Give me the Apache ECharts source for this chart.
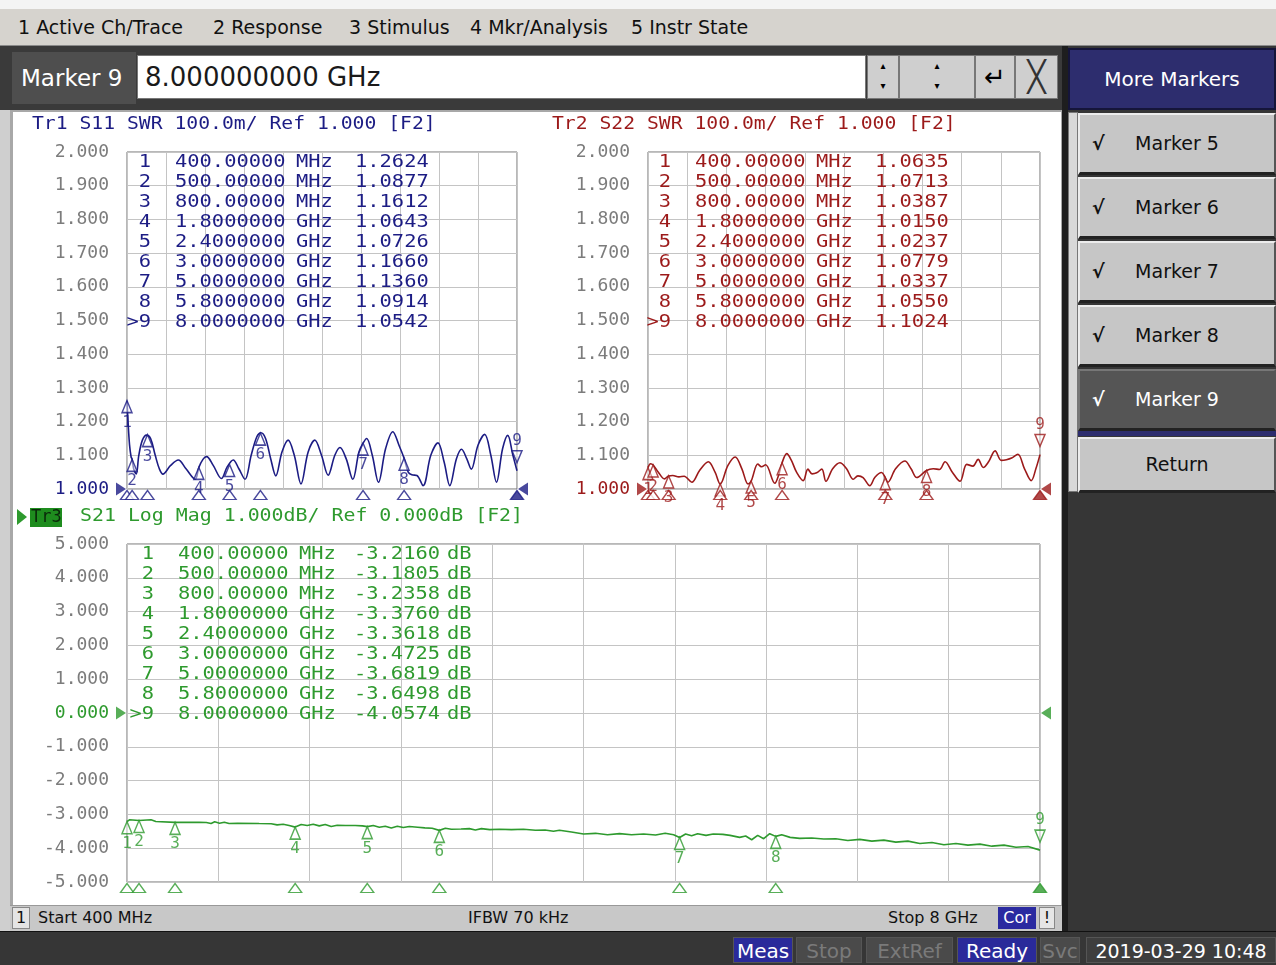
<!DOCTYPE html>
<html>
<head>
<meta charset="utf-8">
<script src="https://cdn.jsdelivr.net/npm/echarts@6/dist/echarts.min.js"></script>
<style>
body { margin: 0; width: 1276px; height: 965px; overflow: hidden; background: #363636; position: relative; font-family: 'DejaVu Sans', sans-serif; }
.a { position: absolute; box-sizing: border-box; }
.menu span { position: absolute; top: 0; line-height: 37px; font-size: 19px; color: #111; white-space: nowrap; }
.btn { position: absolute; left: 1078px; width: 198px; background: #c6c6c6; border-top: 2px solid #ececec; border-left: 2px solid #ececec; border-bottom: 3px solid #222; border-right: 2px solid #555; font-size: 19px; color: #111; text-align: center; box-sizing: border-box; }
.btn i { position: absolute; left: 12px; font-style: normal; font-weight: bold; }
.sb { position: absolute; top: 937px; height: 26px; line-height: 26px; font-size: 20px; text-align: center; box-sizing: border-box; border: 1px solid #555; }
#chart { position: absolute; left: 0; top: 0; width: 1276px; height: 965px; z-index: 5; }
</style>
</head>
<body>
<div class="a" style="left:0;top:0;width:1276px;height:9px;background:#f4f4f4"></div>
<div class="a menu" style="left:0;top:9px;width:1276px;height:37px;background:#d6d3ce;border-bottom:1px solid #8a8a8a">
  <span style="left:18px">1 Active Ch/Trace</span>
  <span style="left:213px">2 Response</span>
  <span style="left:349px">3 Stimulus</span>
  <span style="left:470px">4 Mkr/Analysis</span>
  <span style="left:631px">5 Instr State</span>
</div>
<div class="a" style="left:0;top:46px;width:1062px;height:64px;background:#3a3a3a"></div>
<div class="a" style="left:12px;top:52px;width:124px;height:52px;background:#4e4e4e;color:#fff;font-size:23px;line-height:52px;padding-left:9px;white-space:nowrap">Marker 9</div>
<div class="a" style="left:137px;top:55px;width:729px;height:44px;background:#fff;border:1px solid #777;color:#1a1a1a;font-size:26px;line-height:42px;padding-left:7px">8.000000000 GHz</div>
<div class="a" style="left:867px;top:55px;width:32px;height:44px;background:#cfcfcf;border:1px solid #777;font-size:10px;line-height:20px;text-align:center">&#9652;<br>&#9662;</div>
<div class="a" style="left:899px;top:55px;width:76px;height:44px;background:#cfcfcf;border:1px solid #777;font-size:10px;line-height:20px;text-align:center">&#9652;<br>&#9662;</div>
<div class="a" style="left:975px;top:55px;width:40px;height:44px;background:#cfcfcf;border:1px solid #777;font-size:26px;line-height:42px;text-align:center">&#8629;</div>
<div class="a" style="left:1015px;top:55px;width:43px;height:44px;background:#cfcfcf;border:1px solid #777;font-size:30px;line-height:42px;text-align:center;color:#333">&#9587;</div>

<div class="a" style="left:1062px;top:46px;width:6px;height:886px;background:#1e1e1e"></div>
<div class="a" style="left:1068px;top:48px;width:208px;height:62px;background:#2d2d6e;border:2px solid #15153a;color:#fff;font-size:20px;line-height:58px;text-align:center">More Markers</div>
<div class="a" style="left:1068px;top:112px;width:10px;height:380px;background:#d8d8d8;border:1px solid #777"></div>
<div class="btn" style="top:113px;height:62px;line-height:57px"><i>&#8730;</i>Marker 5</div>
<div class="btn" style="top:177px;height:62px;line-height:57px"><i>&#8730;</i>Marker 6</div>
<div class="btn" style="top:241px;height:62px;line-height:57px"><i>&#8730;</i>Marker 7</div>
<div class="btn" style="top:305px;height:62px;line-height:57px"><i>&#8730;</i>Marker 8</div>
<div class="btn" style="top:369px;height:62px;line-height:57px;background:#555;color:#fff;border-top-color:#777;border-left-color:#777"><i>&#8730;</i>Marker 9</div>
<div class="a" style="left:1078px;top:431px;width:198px;height:5px;background:#2d2d6e"></div>
<div class="btn" style="top:437px;height:56px;line-height:51px">Return</div>

<div class="a" style="left:0;top:110px;width:12px;height:822px;background:#cfcfcf"></div>
<div class="a" style="left:10px;top:110px;width:1052px;height:795px;background:#fff;border-left:3px solid #a8a8a8;border-top:2px solid #a8a8a8;border-right:1px solid #a8a8a8"></div>
<div class="a" style="left:10px;top:905px;width:1052px;height:26px;background:#c8c8c8;border-top:1px solid #999;font-size:16px;line-height:24px;color:#111">
  <div class="a" style="left:2px;top:1px;width:18px;height:22px;background:#e4e4e4;border:1px solid #888;text-align:center;line-height:20px">1</div>
  <span class="a" style="left:28px">Start 400 MHz</span>
  <span class="a" style="left:458px">IFBW 70 kHz</span>
  <span class="a" style="left:878px">Stop 8 GHz</span>
  <div class="a" style="left:988px;top:1px;width:38px;height:22px;background:#2a2aa0;color:#fff;text-align:center;line-height:22px">Cor</div>
  <div class="a" style="left:1029px;top:1px;width:16px;height:22px;background:#e6e6e6;border:1px solid #888;text-align:center;line-height:20px">!</div>
</div>
<div class="a" style="left:0;top:931px;width:1276px;height:34px;background:#363636;border-top:1px solid #111"></div>
<div class="sb" style="left:733px;width:60px;background:#2a2a9a;color:#fff">Meas</div>
<div class="sb" style="left:796px;width:66px;background:#4a4a4a;color:#7a7a7a">Stop</div>
<div class="sb" style="left:866px;width:87px;background:#4a4a4a;color:#7a7a7a">ExtRef</div>
<div class="sb" style="left:957px;width:80px;background:#2a2a9a;color:#fff">Ready</div>
<div class="sb" style="left:1040px;width:40px;background:#4a4a4a;color:#7a7a7a">Svc</div>
<div class="sb" style="left:1086px;width:190px;background:#3e3e3e;color:#fff;font-size:19px">2019-03-29 10:48</div>

<div id="chart"></div>
<script>
// sweep: 400 MHz .. 8 GHz, 10 divisions
const freqStart = 0.4;
const freqStop = 8.0;
const freqDiv = 0.76;

// y scales [min, max, step]
const swrScale = [1.0, 2.0, 0.1];
const magScale = [-5.0, 5.0, 1.0];

const markerFreq = [0.4, 0.5, 0.8, 1.8, 2.4, 3.0, 5.0, 5.8, 8.0];
const markerFreqText = ['400.00000', '500.00000', '800.00000', '1.8000000', '2.4000000', '3.0000000', '5.0000000', '5.8000000', '8.0000000'];
const markerUnit = ['MHz', 'MHz', 'MHz', 'GHz', 'GHz', 'GHz', 'GHz', 'GHz', 'GHz'];
const s11Marker = [1.2624, 1.0877, 1.1612, 1.0643, 1.0726, 1.1660, 1.1360, 1.0914, 1.0542];
const s22Marker = [1.0635, 1.0713, 1.0387, 1.0150, 1.0237, 1.0779, 1.0337, 1.0550, 1.1024];
const s21Marker = [-3.2160, -3.1805, -3.2358, -3.3760, -3.3618, -3.4725, -3.6819, -3.6498, -4.0574];

// traces, [GHz, value]
const s11Trace = [
    [0.40, 1.262], [0.42, 1.20], [0.45, 1.13], [0.48, 1.095], [0.50, 1.088], [0.53, 1.06], [0.58, 1.045],
    [0.63, 1.10], [0.70, 1.145], [0.78, 1.160], [0.86, 1.150], [0.95, 1.10], [1.03, 1.06], [1.10, 1.044],
    [1.25, 1.07], [1.40, 1.086], [1.55, 1.06], [1.73, 1.029], [1.80, 1.064], [1.88, 1.088], [1.95, 1.096],
    [2.08, 1.07], [2.24, 1.031], [2.35, 1.065], [2.47, 1.086], [2.58, 1.06], [2.70, 1.029], [2.82, 1.10],
    [2.93, 1.155], [3.01, 1.167], [3.10, 1.150], [3.20, 1.09], [3.30, 1.039], [3.42, 1.11], [3.54, 1.145],
    [3.66, 1.10], [3.79, 1.015], [3.93, 1.11], [4.06, 1.145], [4.19, 1.10], [4.32, 1.041], [4.45, 1.10],
    [4.55, 1.123], [4.67, 1.09], [4.80, 1.029], [4.92, 1.11], [5.00, 1.136], [5.07, 1.150], [5.18, 1.10],
    [5.30, 1.020], [5.44, 1.12], [5.58, 1.170], [5.70, 1.13], [5.80, 1.091], [5.88, 1.05], [5.95, 1.042],
    [6.05, 1.040], [6.17, 1.010], [6.32, 1.10], [6.46, 1.137], [6.58, 1.08], [6.69, 1.010], [6.82, 1.09],
    [6.92, 1.118], [7.02, 1.09], [7.11, 1.059], [7.24, 1.13], [7.37, 1.162], [7.49, 1.10], [7.60, 1.020],
    [7.72, 1.12], [7.82, 1.159], [7.92, 1.10], [8.00, 1.054]
];
const s22Trace = [
    [0.40, 1.0635], [0.45, 1.075], [0.50, 1.0713], [0.60, 1.05], [0.72, 1.030], [0.80, 1.0387], [0.88, 1.040],
    [1.00, 1.036], [1.10, 1.038], [1.25, 1.020], [1.40, 1.055], [1.57, 1.081], [1.70, 1.05], [1.80, 1.015],
    [1.95, 1.07], [2.09, 1.095], [2.22, 1.06], [2.34, 1.015], [2.40, 1.0237], [2.53, 1.074], [2.60, 1.066],
    [2.68, 1.072], [2.86, 1.017], [2.93, 1.04], [3.00, 1.078], [3.09, 1.105], [3.18, 1.085], [3.28, 1.05],
    [3.41, 1.025], [3.50, 1.059], [3.58, 1.045], [3.67, 1.048], [3.77, 1.059], [3.85, 1.023], [3.98, 1.06],
    [4.12, 1.078], [4.25, 1.06], [4.38, 1.029], [4.47, 1.039], [4.57, 1.034], [4.70, 1.010], [4.80, 1.035],
    [4.93, 1.049], [5.00, 1.0337], [5.05, 1.02], [5.20, 1.06], [5.38, 1.083], [5.50, 1.06], [5.61, 1.034],
    [5.80, 1.055], [5.93, 1.060], [6.05, 1.058], [6.16, 1.081], [6.30, 1.05], [6.45, 1.023], [6.58, 1.073],
    [6.70, 1.068], [6.80, 1.088], [6.90, 1.064], [7.00, 1.080], [7.13, 1.113], [7.25, 1.085], [7.35, 1.087],
    [7.45, 1.092], [7.57, 1.103], [7.70, 1.06], [7.83, 1.025], [7.92, 1.06], [8.00, 1.102]
];
const s21Trace = [
    [0.40, -3.216], [0.42, -3.16], [0.50, -3.18], [0.60, -3.16], [0.64, -3.21], [0.80, -3.236], [1.00, -3.235],
    [1.06, -3.24], [1.10, -3.27], [1.13, -3.22], [1.17, -3.26], [1.21, -3.23], [1.25, -3.27], [1.32, -3.26],
    [1.50, -3.27], [1.60, -3.275], [1.65, -3.31], [1.70, -3.29], [1.75, -3.33], [1.80, -3.376], [1.85, -3.30],
    [1.90, -3.33], [1.95, -3.29], [2.00, -3.34], [2.05, -3.30], [2.10, -3.36], [2.15, -3.32], [2.22, -3.33],
    [2.30, -3.33], [2.36, -3.34], [2.40, -3.362], [2.45, -3.33], [2.50, -3.38], [2.55, -3.35], [2.60, -3.40],
    [2.65, -3.35], [2.70, -3.39], [2.75, -3.36], [2.82, -3.38], [2.88, -3.40], [2.94, -3.41], [3.00, -3.4725],
    [3.05, -3.41], [3.10, -3.44], [3.18, -3.43], [3.25, -3.42], [3.30, -3.46], [3.35, -3.42], [3.42, -3.45],
    [3.50, -3.44], [3.60, -3.45], [3.70, -3.44], [3.80, -3.47], [3.88, -3.46], [3.95, -3.50], [4.00, -3.47],
    [4.10, -3.52], [4.20, -3.58], [4.30, -3.56], [4.40, -3.60], [4.50, -3.57], [4.60, -3.60], [4.70, -3.58],
    [4.80, -3.61], [4.88, -3.56], [4.95, -3.60], [5.00, -3.682], [5.05, -3.58], [5.10, -3.63], [5.15, -3.57],
    [5.22, -3.62], [5.28, -3.58], [5.36, -3.59], [5.42, -3.62], [5.50, -3.68], [5.55, -3.64], [5.60, -3.75],
    [5.65, -3.62], [5.70, -3.72], [5.75, -3.57], [5.80, -3.650], [5.85, -3.60], [5.92, -3.68], [6.00, -3.71],
    [6.10, -3.70], [6.20, -3.73], [6.30, -3.72], [6.40, -3.77], [6.50, -3.74], [6.60, -3.79], [6.70, -3.76],
    [6.80, -3.82], [6.90, -3.79], [7.00, -3.86], [7.10, -3.83], [7.20, -3.90], [7.30, -3.86], [7.40, -3.91],
    [7.50, -3.88], [7.60, -3.94], [7.70, -3.91], [7.80, -3.97], [7.90, -3.95], [8.00, -4.057]
];

const NAVY = '#1c1c84';
const RED = '#9c1a1a';
const GREEN = '#2e9a2e';
const MONO = '"DejaVu Sans Mono", monospace';

const chart = echarts.init(document.getElementById('chart'));

function txt(x, y, s, color, sx, align) {
    return {
        type: 'text', x: x, y: y, scaleX: sx || 1, z: 10,
        style: {
            text: s, fill: color, font: '17px ' + MONO,
            align: align || 'left', verticalAlign: 'middle',
            textAlign: align || 'left', textVerticalAlign: 'middle'
        }
    };
}

function markerTable(x0, y0, vals, color, unit) {
    const out = [];
    vals.forEach(function (v, i) {
        const y = y0 + i * 20;
        out.push(txt(x0, y, i === 8 ? '>9' : String(i + 1), color, 1.2, 'right'));
        out.push(txt(x0 + 24, y, markerFreqText[i], color, 1.2));
        out.push(txt(x0 + 145, y, markerUnit[i], color, 1.2));
        if (unit) {
            out.push(txt(x0 + 200, y, v.toFixed(4), color, 1.2));
            out.push(txt(x0 + 293, y, unit, color, 1.2));
        } else {
            out.push(txt(x0 + 204, y, v.toFixed(4), color, 1.2));
        }
    });
    return out;
}

const graphic = [
    txt(32, 125, 'Tr1 S11 SWR 100.0m/ Ref 1.000 [F2]', NAVY, 1.16),
    txt(552, 125, 'Tr2 S22 SWR 100.0m/ Ref 1.000 [F2]', RED, 1.16),
    { type: 'polygon', z: 10, shape: { points: [[17, 509], [27, 517], [17, 525]] }, style: { fill: GREEN } },
    { type: 'rect', z: 9, shape: { x: 30, y: 508, width: 32, height: 19 }, style: { fill: '#1e8c1e' } },
    txt(31, 518, 'Tr3', '#0a2a0a', 1.0),
    txt(80, 517, 'S21 Log Mag 1.000dB/ Ref 0.000dB [F2]', GREEN, 1.17)
].concat(
    markerTable(151, 163, s11Marker, NAVY),
    markerTable(671, 163, s22Marker, RED),
    markerTable(154, 555, s21Marker, GREEN, 'dB')
);

const grids = [
    { left: 127, top: 152, width: 390, height: 337 },
    { left: 648, top: 152, width: 392, height: 337 },
    { left: 127, top: 544, width: 913, height: 338 }
];
const scales = [swrScale, swrScale, magScale];
const refLevel = [1.0, 1.0, 0.0];
const colors = [NAVY, RED, GREEN];
const traces = [s11Trace, s22Trace, s21Trace];
const markers = [s11Marker, s22Marker, s21Marker];

const series = [];
traces.forEach(function (tr, g) {
    series.push({
        type: 'line', xAxisIndex: g, yAxisIndex: g, data: tr, showSymbol: false,
        smooth: g < 2 ? 0.35 : false, lineStyle: { color: colors[g], width: 1.6 }, z: 3
    });
    // markers on the trace
    series.push({
        type: 'scatter', xAxisIndex: g, yAxisIndex: g, clip: false, z: 4,
        symbol: 'triangle', symbolSize: [10, 12], symbolOffset: [0, 6],
        itemStyle: { color: 'rgba(255,255,255,0.6)', borderColor: colors[g], borderWidth: 1.5 },
        label: {
            show: true, position: 'bottom', distance: 1, color: colors[g],
            fontFamily: MONO, fontSize: 16, formatter: function (p) { return String(p.dataIndex + 1); }
        },
        data: markerFreq.map(function (f, i) {
            if (i === 8) {
                return { value: [f, markers[g][i]], symbolRotate: 180, symbolOffset: [0, -14], label: { position: 'top' } };
            }
            return [f, markers[g][i]];
        })
    });
    // marker stimulus triangles under the grid
    series.push({
        type: 'scatter', xAxisIndex: g, yAxisIndex: g, clip: false, z: 4,
        symbol: 'triangle', symbolSize: [13, 9], symbolOffset: [0, 6],
        itemStyle: { color: '#fff', borderColor: colors[g], borderWidth: 1.3 },
        data: markerFreq.map(function (f, i) {
            const item = { value: [f, scales[g][0]] };
            if (i === 8) item.itemStyle = { color: colors[g] };
            return item;
        })
    });
    // reference level arrows
    series.push({
        type: 'scatter', xAxisIndex: g, yAxisIndex: g, clip: false, z: 5,
        symbol: 'triangle', symbolSize: [13, 10],
        itemStyle: { color: colors[g] },
        data: [
            { value: [freqStart, refLevel[g]], symbolRotate: -90, symbolOffset: [-6, 0] },
            { value: [freqStop, refLevel[g]], symbolRotate: 90, symbolOffset: [6, 0] }
        ]
    });
});

const option = {
    animation: false,
    graphic: graphic,
    grid: grids.map(function (gr) {
        return Object.assign({ show: true, backgroundColor: '#fff', borderColor: '#707070', borderWidth: 1 }, gr);
    }),
    xAxis: grids.map(function (gr, g) {
        return {
            gridIndex: g, type: 'value', min: freqStart, max: freqStop, interval: freqDiv,
            axisLabel: { show: false }, axisTick: { show: false }, axisLine: { show: false },
            splitLine: { lineStyle: { color: '#c4c4c4', width: 1 } }
        };
    }),
    yAxis: grids.map(function (gr, g) {
        return {
            gridIndex: g, type: 'value', min: scales[g][0], max: scales[g][1], interval: scales[g][2],
            axisTick: { show: false }, axisLine: { show: false },
            splitLine: { lineStyle: { color: '#c4c4c4', width: 1 } },
            axisLabel: {
                margin: 18, fontFamily: MONO, fontSize: 18,
                formatter: function (v) { return Number(v).toFixed(3); },
                color: function (v) { return Math.abs(Number(v) - refLevel[g]) < 1e-6 ? colors[g] : '#7c7c7c'; }
            }
        };
    }),
    series: series
};

option && chart.setOption(option);
</script>
</body>
</html>
